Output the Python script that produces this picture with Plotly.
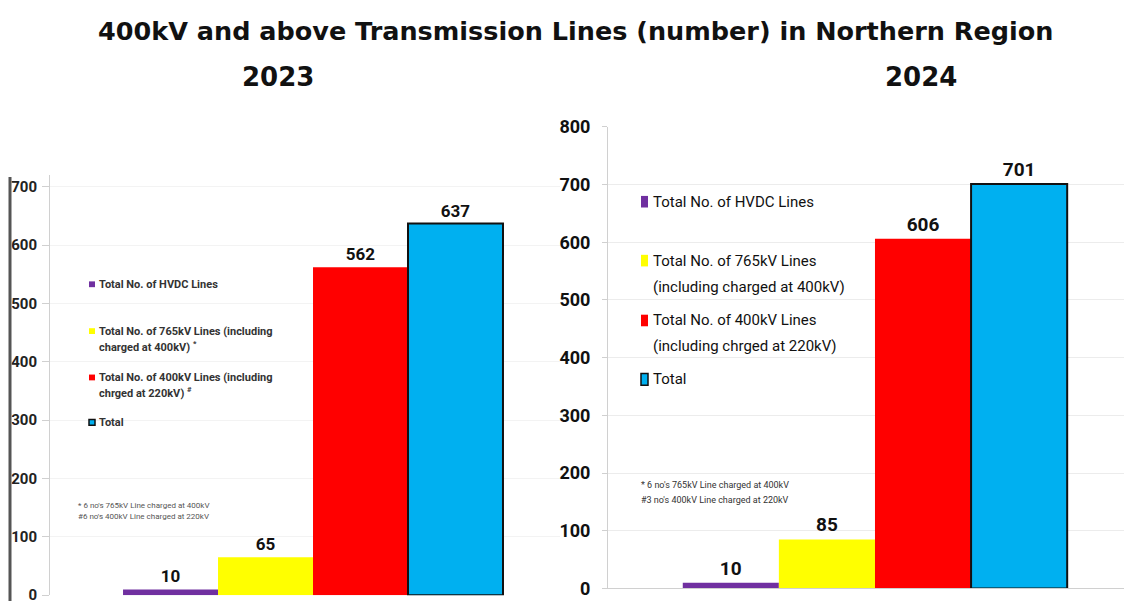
import plotly.graph_objects as go

# Series shown in both panels
series = ["Total No. of HVDC Lines",
          "Total No. of 765kV Lines",
          "Total No. of 400kV Lines",
          "Total"]
colors = ["#7030A0", "#FFFF00", "#FF0000", "#00B0F0"]

years = ["2023", "2024"]
values_2023 = [10, 65, 562, 637]
values_2024 = [10, 85, 606, 701]

ticks_2023 = [0, 100, 200, 300, 400, 500, 600, 700]
ticks_2024 = [0, 100, 200, 300, 400, 500, 600, 700, 800]

# Legend text lines per panel
legend_2023 = [["Total No. of HVDC Lines"],
               ["Total No. of 765kV Lines (including", "charged at 400kV) <sup>*</sup>"],
               ["Total No. of 400kV Lines (including", "chrged at 220kV) <sup>#</sup>"],
               ["Total"]]
legend_2024 = [["Total No. of HVDC Lines"],
               ["Total No. of 765kV Lines", "(including charged at 400kV)"],
               ["Total No. of 400kV Lines", "(including chrged at 220kV)"],
               ["Total"]]
notes_2023 = ["* 6 no's 765kV Line charged at 400kV", "#6 no's 400kV Line charged at 220kV"]
notes_2024 = ["* 6 no's 765kV Line charged at 400kV", "#3 no's 400kV Line charged at 220kV"]

W, H = 1126, 611
NUM_FONT = "Roboto, Arial"
TITLE_FONT = "DejaVu Sans, Verdana, Arial"


def px(x):
    return min(1.0, max(0.0, x / W))


def py(y):
    return min(1.0, max(0.0, 1 - y / H))


fig = go.Figure()

for vals, year, xa, ya, fsize in [(values_2023, years[0], "x", "y", 17),
                                  (values_2024, years[1], "x2", "y2", 19)]:
    for name, color, v in zip(series, colors, vals):
        is_total = name == "Total"
        fig.add_trace(go.Bar(
            x=[year], y=[v], name=name, xaxis=xa, yaxis=ya,
            marker=dict(color=color,
                        line=dict(color="#111111", width=2 if is_total else 0)),
            text=[v], texttemplate="%{y}", textposition="outside",
            textfont=dict(family=NUM_FONT, size=fsize, color="#111111", weight="bold"),
            cliponaxis=False, showlegend=False,
        ))

annotations = []
shapes = []

# Titles
annotations.append(dict(text="400kV and above Transmission Lines (number) in Northern Region",
                        x=px(575), y=py(21), xref="paper", yref="paper",
                        xanchor="center", yanchor="middle", showarrow=False,
                        font=dict(family=TITLE_FONT, size=25.5, color="#111111", weight="bold")))
for label, cx in [(years[0], 278), (years[1], 921)]:
    annotations.append(dict(text=label, x=px(cx), y=py(68),
                            xref="paper", yref="paper", xanchor="center", yanchor="middle",
                            showarrow=False,
                            font=dict(family=TITLE_FONT, size=26, color="#111111", weight="bold")))


def add_legend(lines_list, sq_x, sq_w, sq_h, text_x, line_ys, size, bold, color, font):
    for color_fill, lines, ys in zip(colors, lines_list, line_ys):
        c0 = ys[0]
        is_total = color_fill == colors[-1]
        shapes.append(dict(type="rect", xref="paper", yref="paper",
                           x0=px(sq_x), x1=px(sq_x + sq_w),
                           y0=py(c0 + sq_h / 2), y1=py(c0 - sq_h / 2),
                           fillcolor=color_fill,
                           line=dict(color="#111111", width=1.5 if is_total else 0)))
        for line, yy in zip(lines, ys):
            txt = f"<b>{line}</b>" if bold else line
            annotations.append(dict(text=txt, x=px(text_x), y=py(yy),
                                    xref="paper", yref="paper",
                                    xanchor="left", yanchor="middle", showarrow=False,
                                    font=dict(family=font, size=size, color=color)))


add_legend(legend_2023, 89, 6, 6, 97,
           [[283], [331.5, 347], [379.5, 395.5], [426]],
           11, True, "#333333", "Roboto, Arial")
add_legend(legend_2024, 641, 7, 12, 651,
           [[197.5], [258.5, 285.5], [320.5, 347], [381.5]],
           15, False, "#111111", "Roboto, Arial")

# Footnotes
for line, yy in zip(notes_2023, [512, 523]):
    annotations.append(dict(text=line, x=px(76), y=py(yy), xref="paper", yref="paper",
                            xanchor="left", yanchor="middle", showarrow=False,
                            font=dict(family="Roboto, Arial", size=8, color="#555555")))
for line, yy in zip(notes_2024, [491, 506]):
    annotations.append(dict(text=line, x=px(639), y=py(yy), xref="paper", yref="paper",
                            xanchor="left", yanchor="middle", showarrow=False,
                            font=dict(family="Roboto, Arial", size=9, color="#333333")))

# Dark frame edge at the far left of the 2023 panel
shapes.append(dict(type="line", xref="paper", yref="paper",
                   x0=px(10), x1=px(10), y0=py(172), y1=0,
                   line=dict(color="#555555", width=3)))

fig.update_layout(
    width=W, height=H,
    margin=dict(l=0, r=0, t=0, b=0),
    paper_bgcolor="white", plot_bgcolor="white",
    barmode="group", bargap=0.255, bargroupgap=0,
    showlegend=False,
    annotations=annotations, shapes=shapes,
    xaxis=dict(domain=[px(50), px(560)], type="category", range=[-0.5157, 0.4843],
               showticklabels=False, showgrid=False, zeroline=False,
               showline=False, anchor="y"),
    yaxis=dict(domain=[py(605), py(170)], range=[0, 720], tickvals=ticks_2023,
               showgrid=True, gridcolor="#f3f3f3", gridwidth=1, zeroline=False,
               showline=True, linecolor="#d0d0d0", linewidth=1,
               ticks="outside", ticklen=7, tickcolor="#d0d0d0",
               tickfont=dict(family=NUM_FONT, size=15, color="#222222", weight="bold"),
               ticklabelstandoff=2, anchor="x"),
    xaxis2=dict(domain=[px(608), px(1124)], type="category", range=[-0.5174, 0.4826],
                showticklabels=False, showgrid=False, zeroline=False,
                showline=True, linecolor="#d0d0d0", linewidth=1, anchor="y2"),
    yaxis2=dict(domain=[py(598), py(120)], range=[0, 800], tickvals=ticks_2024,
                showgrid=True, gridcolor="#ececec", gridwidth=1, zeroline=False,
                showline=True, linecolor="#d0d0d0", linewidth=1,
                ticks="outside", ticklen=5, tickcolor="#d0d0d0",
                tickfont=dict(family=NUM_FONT, size=18, color="#111111", weight="bold"),
                ticklabelstandoff=8, anchor="x2"),
)

fig.write_html("out.html")
